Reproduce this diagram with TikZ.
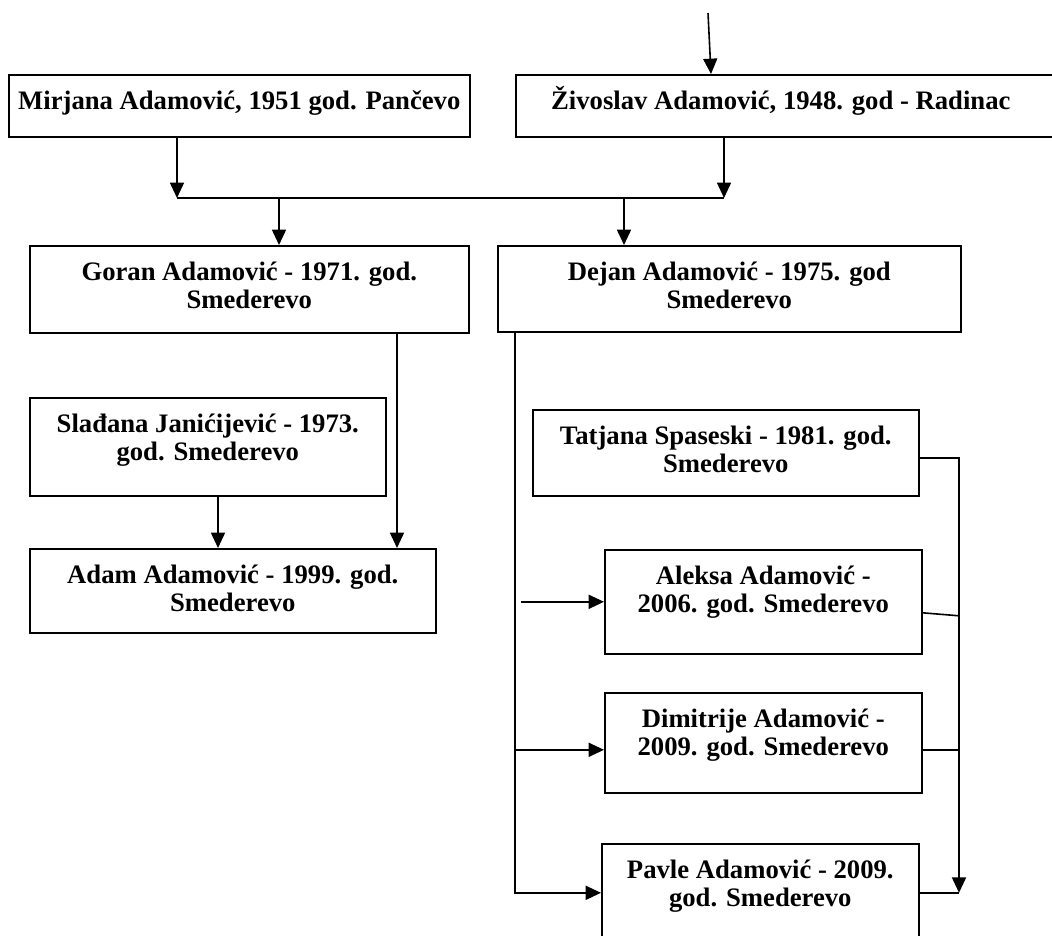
\documentclass[tikz,border=0pt]{standalone}
\usepackage{fontspec}
\setmainfont{Liberation Serif}
\usepackage{tikz}
\usetikzlibrary{arrows.meta}
\usetikzlibrary{calc}

\newlength{\px}
\setlength{\px}{0.75pt}
\newcommand{\famtext}[3]{\parbox[t][#2\px][t]{#1\px}{\centering\rule{0pt}{26.25pt}#3}}

\tikzset{
    person/.style={draw, line width=1.2pt, inner sep=0pt, anchor=north west,
        font=\bfseries\fontsize{20}{21}\selectfont},
    arr/.style={line width=1.2pt, -{Triangle[length=11.5pt,width=10.5pt]}},
    link/.style={line width=1.2pt}
}

\begin{document}
\begin{tikzpicture}[x=0.75pt, y=-0.75pt]
    \useasboundingbox (0,0) rectangle (1052,935);
    \clip (0,0) rectangle (1052,935);

    \coordinate (top) at (708,13);
    \coordinate (jl) at (177,198);
    \coordinate (jr) at (724,198);
    \coordinate (jg) at (279,198);
    \coordinate (jd) at (624,198);
    \coordinate (gx) at (397,0);
    \coordinate (sx) at (218,0);
    \coordinate (lbus) at (515,0);
    \coordinate (rbus) at (959,0);

    % Parents
    \node[person] (mirjana) at (8,74) {\famtext{461}{62}{Mirjana Adamović, 1951 god. Pančevo}};
    \node[person] (zivoslav) at (515,74) {\famtext{550}{62}{Živoslav Adamović, 1948. god - Radinac\hspace*{20\px}}};

    % Sons
    \node[person] (goran) at (29,245) {\famtext{439}{87}{Goran Adamović - 1971. god.\\Smederevo}};
    \node[person] (dejan) at (497,245) {\famtext{463}{86}{Dejan Adamović - 1975. god\\Smederevo}};

    % Goran's family
    \node[person] (sladjana) at (29,397) {\famtext{356}{98}{Slađana Janićijević - 1973.\\god. Smederevo}};
    \node[person] (adam) at (29,548) {\famtext{406}{84}{Adam Adamović - 1999. god.\\Smederevo}};

    % Dejan's family
    \node[person] (tatjana) at (532,409) {\famtext{386}{86}{Tatjana Spaseski - 1981. god.\\Smederevo}};
    \node[person] (aleksa) at (604,549) {\famtext{317}{104}{Aleksa Adamović -\\2006. god. Smederevo}};
    \node[person] (dimitrije) at (604,692) {\famtext{317}{100}{Dimitrije Adamović -\\2009. god. Smederevo}};
    \node[person] (pavle) at (601,843) {\famtext{317}{98}{Pavle Adamović - 2009.\\god. Smederevo}};

    % Parents to sons
    \draw[arr] (top) -- ($(top |- zivoslav.north)+(3,0)$);
    \draw[arr] (jl |- mirjana.south) -- (jl);
    \draw[arr] (jr |- zivoslav.south) -- (jr);
    \draw[link] (jl) -- (jr);
    \draw[arr] (jg) -- (jg |- goran.north);
    \draw[arr] (jd) -- (jd |- dejan.north);

    % Adam
    \draw[arr] (gx |- goran.south) -- (gx |- adam.north);
    \draw[arr] (sx |- sladjana.south) -- (sx |- adam.north);

    % Dejan's line on the left
    \coordinate (dm) at ([yshift=-5.25pt]dimitrije.west);
    \draw[arr] (lbus |- dejan.south) |- (pavle.west);
    \draw[arr] ([xshift=4.5pt]lbus |- aleksa.west) -- (aleksa.west);
    \draw[arr] (lbus |- dm) -- (dm);

    % Tatjana's line on the right
    \coordinate (ts) at ([yshift=-3.75pt]tatjana.east);
    \coordinate (as) at ([yshift=-8.25pt]aleksa.east);
    \coordinate (ds) at ([yshift=-5.25pt]dimitrije.east);
    \draw[arr] (ts) -| (rbus |- pavle.east);
    \draw[link] (as) -- ($(rbus |- as)+(0,3)$);
    \draw[link] (ds) -- (rbus |- ds);
    \draw[link] (pavle.east) -- (rbus |- pavle.east);

\end{tikzpicture}
\end{document}
